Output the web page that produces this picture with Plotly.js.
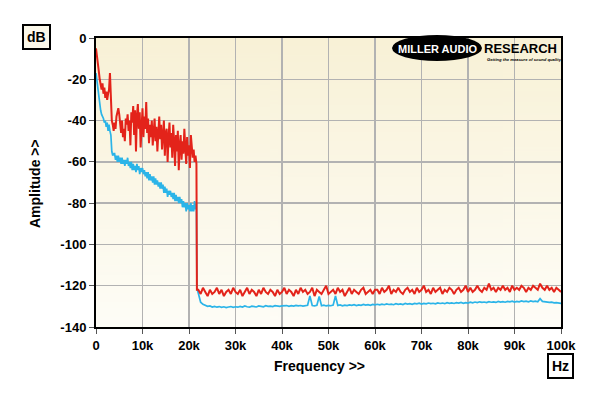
<!DOCTYPE html>
<html><head><meta charset="utf-8">
<script src="https://cdn.plot.ly/plotly-3.0.1.min.js"></script>
<style>html,body{margin:0;padding:0;background:#fff;}#chart{width:600px;height:396px;}</style>
</head><body><div id="chart"></div>
<script>
// ---- tick labels ----
const xTickVals = [0,10,20,30,40,50,60,70,80,90,100];
const xTickText = ['0','10k','20k','30k','40k','50k','60k','70k','80k','90k','100k'];
const yTickVals = [0,-20,-40,-60,-80,-100,-120,-140];
const yTickText = ['0','-20','-40','-60','-80','-100','-120','-140'];

// ---- data (frequency in kHz, amplitude in dB) ----
// low band: 0 .. 21.6 kHz in 0.2 kHz steps
const lowStep = 0.2;
const redLow = [
 -5,-8,-12,-16,-20,-22,-25,-22,-27,-24,
 -29,-26,-30,-27,-25,-17,-30,-40,-42,-45,
 -41,-44,-38,-36,-34,-37,-42,-46,-40,-48,
 -44,-50,-39,-42,-37,-45,-40,-52,-36,-41,
 -33,-47,-35,-55,-38,-32,-44,-36,-53,-40,
 -34,-48,-38,-44,-31,-46,-39,-51,-42,-48,
 -40,-52,-44,-39,-50,-43,-55,-41,-38,-49,
 -42,-54,-45,-40,-57,-46,-44,-60,-48,-41,
 -53,-46,-58,-42,-50,-62,-47,-55,-45,-64,
 -52,-47,-59,-50,-56,-44,-53,-61,-48,-57,
 -52,-63,-47,-55,-58,-54,-60,-57,-61
];
const cyanLow = [
 -17,-21,-25,-29,-32,-35,-37,-38,-39,-41,
 -40,-43,-41,-45,-42,-45,-47,-55,-57,-56,
 -56,-59,-57,-60,-57,-60,-58,-61,-58,-61,
 -59,-62,-59,-61,-58,-62,-60,-63,-60,-64,
 -61,-64,-62,-65,-61,-64,-62,-66,-63,-65,
 -63,-66,-64,-67,-65,-68,-65,-69,-66,-69,
 -67,-70,-67,-71,-68,-71,-69,-72,-70,-73,
 -70,-73,-71,-75,-72,-75,-73,-77,-74,-76,
 -74,-77,-75,-78,-75,-79,-76,-79,-77,-80,
 -77,-80,-78,-82,-79,-82,-80,-84,-80,-83,
 -81,-84,-80,-84,-81,-84,-79,-83,-80
];
// filter edge
const edgeFreq = [21.7];
const redEdge = [-122];
const cyanEdge = [-121];
// high band: 22 .. 100 kHz in 0.5 kHz steps
const highStart = 22, highStep = 0.5;
const redHigh = [
 -122,-124,-121,-123,-125,-122,-124,-123,-121,-124,
 -122,-125,-123,-122,-124,-121,-123,-124,-122,-125,
 -123,-121,-124,-122,-123,-125,-122,-124,-121,-123,
 -124,-122,-123,-125,-122,-124,-123,
 -121,-124,-122,-123,-125,-122,-124,-121,-123,-122,
 -124,-123,-121,-125,-122,-123,-124,-122,-120,-124,
 -123,-122,-124,-121,-123,-122,-125,-123,-121,-124,
 -122,-123,-124,-122,-121,-124,-123,-122,-124,-122,
 -122,-124,-121,-123,-122,-120,-124,-122,-123,-121,
 -123,-124,-122,-121,-123,-122,-124,-121,-123,-122,
 -120,-123,-122,-124,-121,-123,-122,-121,-124,-122,
 -123,-121,-122,-124,-122,-121,-123,-122,-120,-123,
 -121,-123,-122,-120,-122,-123,-121,-122,-119,-122,
 -121,-123,-121,-122,-120,-122,-121,-123,-120,-122,
 -121,-122,-120,-121,-123,-121,-122,-120,-121,-122,
 -119,-121,-122,-120,-122,-121,-123,-121,-122,-123
];
const cyanHigh = [
 -124,-128,-129,-129.5,-130,-129.8,-130.3,-130,-130.4,-130.1,
 -130.5,-130.2,-130.6,-130.3,-130.1,-130.5,-130.2,-130.4,-130,-130.3,
 -129.8,-130.2,-130.4,-129.9,-130.1,-130.3,-129.8,-130,-130.2,-129.7,
 -130,-129.9,-130.1,-129.7,-129.9,-130,-129.8,
 -129.8,-129.6,-130,-129.7,-129.9,-129.5,-129.8,-129.6,-129.9,-129.7,
 -129.5,-125,-129.6,-129.8,-129.5,-125.2,-129.7,-129.4,-129.8,-129.5,
 -129.7,-129.4,-125,-129.6,-129.3,-129.7,-129.4,-129.6,-129.3,-129.5,
 -129.2,-129.6,-129.3,-129.5,-129.1,-129.4,-129.2,-129.5,-129.1,-129.3,
 -129,-129.3,-128.9,-129.2,-128.8,-129.1,-128.9,-129.2,-128.7,-129,
 -128.8,-129.1,-128.6,-128.9,-128.7,-129,-128.6,-128.8,-128.5,-128.9,
 -128.6,-128.8,-128.4,-128.7,-128.5,-128.8,-128.3,-128.6,-128.4,-128.7,
 -128.2,-128.5,-128.3,-128.6,-128.2,-128.4,-128.1,-128.5,-128.2,-128.4,
 -128,-128.3,-127.9,-128.2,-127.8,-128.1,-127.9,-128.2,-127.7,-128,
 -127.8,-128.1,-127.6,-127.9,-127.7,-128,-127.6,-127.8,-127.5,-127.9,
 -127.6,-127.8,-127.4,-127.7,-127.5,-127.8,-127.4,-127.7,-127.5,-127.8,
 -126.3,-127.6,-127.8,-127.9,-128.1,-128,-128.3,-128.2,-128.5,-128.6
];

function series(low, edge, high) {
  const x = [], y = [];
  low.forEach((v, i) => { x.push(+(i * lowStep).toFixed(2)); y.push(v); });
  edge.forEach((v, i) => { x.push(edgeFreq[i]); y.push(v); });
  high.forEach((v, i) => { x.push(+(highStart + i * highStep).toFixed(2)); y.push(v); });
  return {x, y};
}
const red = series(redLow, redEdge, redHigh);
const cyan = series(cyanLow, cyanEdge, cyanHigh);

// plot area geometry (pixels) for placing decorations
const L = 96, R = 561, T = 38, B = 327;
const px = x => (x - L) / (R - L);
const py = y => (B - y) / (B - T);

// background gradient
const cv = document.createElement('canvas');
cv.width = 4; cv.height = 256;
const ctx = cv.getContext('2d');
const g = ctx.createLinearGradient(0, 0, 0, 256);
g.addColorStop(0, '#f8f1d6');
g.addColorStop(1, '#fefdf7');
ctx.fillStyle = g; ctx.fillRect(0, 0, 4, 256);
const bgURL = cv.toDataURL();

const FONT = 'Liberation Sans, Arial, sans-serif';

const traces = [
  {x: cyan.x, y: cyan.y, type: 'scatter', mode: 'lines',
   line: {color: '#2bb4e8', width: 1.7}, hoverinfo: 'skip'},
  {x: red.x, y: red.y, type: 'scatter', mode: 'lines',
   line: {color: '#e3231a', width: 2}, hoverinfo: 'skip'}
];

const axisCommon = {
  showline: true, linecolor: '#000', linewidth: 2, mirror: true,
  showgrid: true, gridcolor: '#b2b2b2', gridwidth: 1.5,
  zeroline: false, ticks: 'outside', ticklen: 5, tickwidth: 1, tickcolor: '#555',
  tickfont: {family: FONT, size: 13, color: '#000', weight: 'bold'},
  fixedrange: true
};

const layout = {
  width: 600, height: 396,
  margin: {l: L, r: 600 - R, t: T, b: 396 - B, pad: 0},
  paper_bgcolor: '#ffffff', plot_bgcolor: 'rgba(0,0,0,0)',
  showlegend: false,
  xaxis: Object.assign({}, axisCommon, {range: [0, 100], tickmode: 'array',
    tickvals: xTickVals, ticktext: xTickText}),
  yaxis: Object.assign({}, axisCommon, {range: [-140, 0], tickmode: 'array',
    tickvals: yTickVals, ticktext: yTickText}),
  images: [{source: bgURL, xref: 'paper', yref: 'paper', x: 0, y: 1,
    sizex: 1, sizey: 1, sizing: 'stretch', xanchor: 'left', yanchor: 'top', layer: 'below'}],
  shapes: [{type: 'circle', xref: 'paper', yref: 'paper', layer: 'above',
    x0: px(392), x1: px(482), y0: py(61), y1: py(35),
    fillcolor: '#000', line: {width: 0}}],
  annotations: [
    {text: 'MILLER AUDIO', xref: 'paper', yref: 'paper', x: px(437), y: py(48.5),
     xanchor: 'center', yanchor: 'middle', showarrow: false,
     font: {family: FONT, size: 11, color: '#fff', weight: 'bold'}},
    {text: 'RESEARCH', xref: 'paper', yref: 'paper', x: px(482), y: py(48.5),
     xanchor: 'left', yanchor: 'middle', showarrow: false,
     font: {family: FONT, size: 13, color: '#000', weight: 'bold'}},
    {text: '<i>Getting the measure of sound quality</i>', xref: 'paper', yref: 'paper',
     x: px(485), y: py(59), xanchor: 'left', yanchor: 'middle', showarrow: false,
     font: {family: FONT, size: 4.2, color: '#000', weight: 'bold'}},
    {text: 'dB', xref: 'paper', yref: 'paper', x: px(37), y: py(36.5),
     xanchor: 'center', yanchor: 'middle', showarrow: false,
     bordercolor: '#000', borderwidth: 2, borderpad: 3, bgcolor: '#fbf8ea',
     font: {family: FONT, size: 14, color: '#000', weight: 'bold'}},
    {text: 'Hz', xref: 'paper', yref: 'paper', x: px(560.5), y: py(366),
     xanchor: 'center', yanchor: 'middle', showarrow: false,
     bordercolor: '#000', borderwidth: 2, borderpad: 3, bgcolor: '#ffffff',
     font: {family: FONT, size: 14, color: '#000', weight: 'bold'}},
    {text: 'Frequency >>', xref: 'paper', yref: 'paper', x: px(319), y: py(366),
     xanchor: 'center', yanchor: 'middle', showarrow: false,
     font: {family: FONT, size: 14, color: '#000', weight: 'bold'}},
    {text: 'Amplitude >>', xref: 'paper', yref: 'paper', x: px(35), y: py(183),
     xanchor: 'center', yanchor: 'middle', showarrow: false, textangle: -90,
     font: {family: FONT, size: 14, color: '#000', weight: 'bold'}}
  ]
};

Plotly.newPlot('chart', traces, layout, {staticPlot: true, displayModeBar: false});
</script>
</body></html>
